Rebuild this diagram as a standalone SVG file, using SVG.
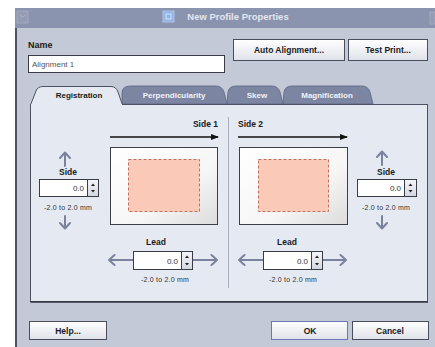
<svg xmlns="http://www.w3.org/2000/svg" width="435" height="347" viewBox="0 0 435 347">
<defs>
<style>
.b{font-family:"Liberation Sans",Arial,sans-serif;font-weight:bold;fill:#1a1a1a}
.r{font-family:"Liberation Sans",Arial,sans-serif;fill:#333}
.tabt{font-family:"Liberation Sans",Arial,sans-serif;font-weight:bold;font-size:8px;fill:#f2f4f8}
.btn{fill:url(#btng);stroke:#4a4e5c;stroke-width:1}
.inp{fill:#fff;stroke:#3a3d48;stroke-width:1}
.spin{fill:url(#sping);stroke:#3a3d48;stroke-width:1}
.ga{fill:none;stroke:#7a829e;stroke-width:2;stroke-linecap:round;stroke-linejoin:round}
.pg{fill:url(#pgg);stroke:#3c3f48;stroke-width:1}
.pink{fill:#fbc9b8;stroke:#c0705c;stroke-width:1;stroke-dasharray:3 2}
.sa{stroke:#111;stroke-width:1.3;fill:none}
.rng{font-family:"Liberation Sans",Arial,sans-serif;font-size:7px;fill:#333;text-anchor:middle;letter-spacing:0.2px}
</style>
<linearGradient id="btng" x1="0" y1="0" x2="0" y2="1">
<stop offset="0" stop-color="#ffffff"/><stop offset="1" stop-color="#dfe2ea"/>
</linearGradient>
<linearGradient id="sping" x1="0" y1="0" x2="0" y2="1">
<stop offset="0" stop-color="#f4f5f8"/><stop offset="1" stop-color="#d4d7e0"/>
</linearGradient>
<linearGradient id="pgg" x1="0" y1="0" x2="1" y2="1">
<stop offset="0" stop-color="#ffffff"/><stop offset="0.6" stop-color="#f6f6f6"/><stop offset="1" stop-color="#dcdcdc"/>
</linearGradient>
<marker id="ah" markerWidth="8" markerHeight="6" refX="7" refY="3" orient="auto" markerUnits="userSpaceOnUse">
<path d="M0,0 L8,3 L0,6 Z" fill="#111"/>
</marker>
</defs>
<rect x="0" y="0" width="435" height="347" fill="#ffffff"/>
<!-- window -->
<g id="window">
<rect x="15" y="28" width="420" height="319" fill="#c4c9d7"/>
<rect x="15" y="8" width="420" height="20" fill="#8b94ae"/>
<rect x="17" y="11" width="11" height="12" fill="#959db6" stroke="#a6adc3" stroke-width="0.8"/>
<path d="M20,15 L22.5,17.5 L25,15" fill="none" stroke="#b4bace" stroke-width="0.8"/>
<rect x="430" y="12" width="5" height="12" fill="#959db6" stroke="#a6adc3" stroke-width="0.8"/>
<rect x="163" y="11" width="11" height="11" fill="#8fb3e6" stroke="#b6cdef" stroke-width="0.8"/>
<rect x="166" y="14" width="5" height="5" fill="none" stroke="#e8f0fb" stroke-width="0.8"/>
<text x="238" y="20" class="b" font-size="9.5" text-anchor="middle" style="fill:#e3e7f0">New Profile Properties</text>
<rect x="15" y="28" width="2" height="319" fill="#4e5468"/>
</g>
<g id="name">
<text x="28" y="48" class="b" font-size="9">Name</text>
<rect x="28.5" y="55.5" width="196" height="17" class="inp"/>
<text x="32" y="67" class="r" font-size="8" style="fill:#555">Alignment 1</text>
</g>
<g id="btn-auto">
<rect x="233.5" y="39.5" width="111" height="21" class="btn"/>
<text x="289" y="53" class="b" font-size="8.5" text-anchor="middle">Auto Alignment...</text>
</g>
<g id="btn-test">
<rect x="348.5" y="39.5" width="79" height="21" class="btn"/>
<text x="388" y="53" class="b" font-size="8.5" text-anchor="middle">Test Print...</text>
</g>
<!-- tabs -->
<g id="tab-perp">
<path d="M122,104 L122,92 Q123,86 130,86 L216,86 Q222,86 224,92 L227,104 Z" fill="#7c85a2" stroke="#5d6480" stroke-width="0.8"/>
<text x="174" y="98" class="tabt" text-anchor="middle">Perpendicularity</text>
</g>
<g id="tab-skew">
<path d="M227,104 L228,92 Q229,86 236,86 L272,86 Q278,86 280,92 L283,104 Z" fill="#7c85a2" stroke="#5d6480" stroke-width="0.8"/>
<text x="257" y="98" class="tabt" text-anchor="middle">Skew</text>
</g>
<g id="tab-mag">
<path d="M283,104 L284,92 Q285,86 292,86 L362,86 Q368,86 370,92 L373,104 Z" fill="#7c85a2" stroke="#5d6480" stroke-width="0.8"/>
<text x="327" y="98" class="tabt" text-anchor="middle">Magnification</text>
</g>
<g id="panel">
<rect x="30.5" y="104.5" width="397" height="197" fill="#e5e9f1" stroke="#4d5262" stroke-width="1"/>
<line x1="30.5" y1="302" x2="428" y2="302" stroke="#30343e" stroke-width="1.5"/>
<line x1="228.5" y1="117" x2="228.5" y2="288" stroke="#a9aebf" stroke-width="1"/>
</g>
<g id="tab-reg">
<path d="M30.5,105 L36,91 Q37.5,86.5 43,86.5 L111,86.5 Q116,86.5 118,92 L122.5,105" fill="#e5e9f1" stroke="#4d5262" stroke-width="1"/>
<rect x="31" y="104" width="91" height="2" fill="#e5e9f1"/>
<text x="79" y="98" class="b" font-size="8" text-anchor="middle">Registration</text>
</g>
<!-- side 1 -->
<g id="side1">
<text x="218" y="127" class="b" font-size="8.5" text-anchor="end">Side 1</text>
<rect x="110.5" y="147.5" width="107" height="77" class="pg"/>
<rect x="128.5" y="159.5" width="71" height="52" class="pink"/>
</g>
<g id="side2">
<text x="238" y="127" class="b" font-size="8.5">Side 2</text>
<rect x="239.5" y="147.5" width="108" height="77" class="pg"/>
<rect x="258.5" y="159.5" width="70" height="52" class="pink"/>
</g>
<g id="connectors">
<line x1="110" y1="137" x2="218" y2="137" class="sa" marker-end="url(#ah)"/>
<line x1="238" y1="137" x2="347" y2="137" class="sa" marker-end="url(#ah)"/>
<!-- left side arrows -->
<path d="M65,166 L65,153 M60,158 L65,152.5 L70,158" class="ga"/>
<path d="M65,216 L65,228 M60,223 L65,228.5 L70,223" class="ga"/>
<!-- right side arrows -->
<path d="M382,165 L382,152 M377,157 L382,151.5 L387,157" class="ga"/>
<path d="M382,216 L382,228 M377,223 L382,228.5 L387,223" class="ga"/>
<!-- lead left -->
<path d="M133,260 L109,260 M114.5,255 L109,260 L114.5,265" class="ga"/>
<path d="M193,260 L217,260 M211.5,255 L217,260 L211.5,265" class="ga"/>
<!-- lead right -->
<path d="M263,260 L239,260 M244.5,255 L239,260 L244.5,265" class="ga"/>
<path d="M322,260 L346,260 M340.5,255 L346,260 L340.5,265" class="ga"/>
</g>
<g id="side-left">
<text x="68" y="175" class="b" font-size="8.5" text-anchor="middle">Side</text>
<rect x="39.5" y="179.5" width="48" height="17" class="inp"/>
<text x="84" y="191" class="r" font-size="8" text-anchor="end">0.0</text>
<rect x="87.5" y="179.5" width="11" height="17" class="spin"/>
<path d="M91,186 L93,183.5 L95,186 Z M91,190 L93,192.5 L95,190 Z" fill="#222"/>
<text x="68" y="210" class="rng">-2.0 to 2.0 mm</text>
</g>
<g id="side-right">
<text x="386" y="175" class="b" font-size="8.5" text-anchor="middle">Side</text>
<rect x="357.5" y="179.5" width="47" height="17" class="inp"/>
<text x="401" y="191" class="r" font-size="8" text-anchor="end">0.0</text>
<rect x="404.5" y="179.5" width="12" height="17" class="spin"/>
<path d="M408.5,186 L410.5,183.5 L412.5,186 Z M408.5,190 L410.5,192.5 L412.5,190 Z" fill="#222"/>
<text x="386" y="210" class="rng">-2.0 to 2.0 mm</text>
</g>
<g id="lead-left">
<text x="156" y="245" class="b" font-size="8.5" text-anchor="middle">Lead</text>
<rect x="133.5" y="251.5" width="48" height="18" class="inp"/>
<text x="178" y="263.5" class="r" font-size="8" text-anchor="end">0.0</text>
<rect x="181.5" y="251.5" width="11" height="18" class="spin"/>
<path d="M185,258 L187,255.5 L189,258 Z M185,263 L187,265.5 L189,263 Z" fill="#222"/>
<text x="165" y="282" class="rng">-2.0 to 2.0 mm</text>
</g>
<g id="lead-right">
<text x="287" y="245" class="b" font-size="8.5" text-anchor="middle">Lead</text>
<rect x="263.5" y="251.5" width="48" height="18" class="inp"/>
<text x="308" y="263.5" class="r" font-size="8" text-anchor="end">0.0</text>
<rect x="311.5" y="251.5" width="11" height="18" class="spin"/>
<path d="M315,258 L317,255.5 L319,258 Z M315,263 L317,265.5 L319,263 Z" fill="#222"/>
<text x="293" y="282" class="rng">-2.0 to 2.0 mm</text>
</g>
<g id="btn-help">
<rect x="29.5" y="321.5" width="77" height="18" class="btn"/>
<text x="68" y="333.5" class="b" font-size="8.5" text-anchor="middle">Help...</text>
</g>
<g id="btn-ok">
<rect x="271.5" y="321.5" width="76" height="18" class="btn" style="stroke:#6a78b8"/>
<text x="310" y="333.5" class="b" font-size="8.5" text-anchor="middle">OK</text>
</g>
<g id="btn-cancel">
<rect x="352.5" y="321.5" width="76" height="18" class="btn"/>
<text x="390" y="333.5" class="b" font-size="8.5" text-anchor="middle">Cancel</text>
</g>
</svg>
